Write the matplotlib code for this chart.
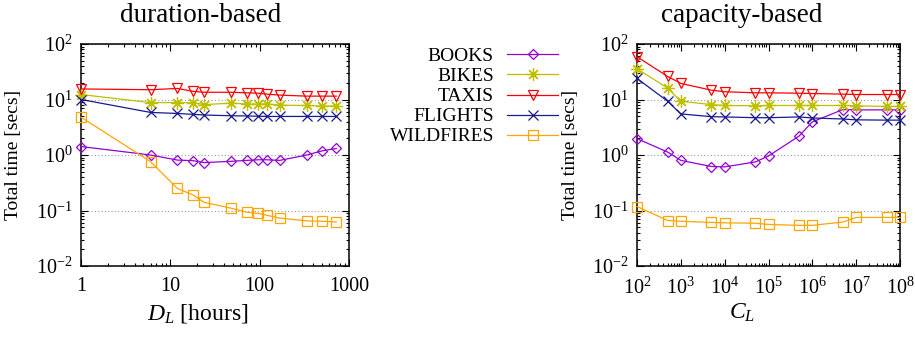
import matplotlib
matplotlib.use("Agg")
import matplotlib.pyplot as plt
from matplotlib.lines import Line2D
from matplotlib.ticker import LogLocator, FixedLocator, FixedFormatter, LogFormatterSciNotation, NullFormatter

plt.rcParams['font.family'] = ['Liberation Serif', 'DejaVu Serif']
plt.rcParams['mathtext.fontset'] = 'custom'
plt.rcParams['mathtext.rm'] = 'Liberation Serif'
plt.rcParams['mathtext.it'] = 'Liberation Serif:italic'
plt.rcParams['mathtext.bf'] = 'Liberation Serif:bold'

# ---------------- data ----------------
series_names = ["BOOKS", "BIKES", "TAXIS", "FLIGHTS", "WILDFIRES"]

duration_hours = [1, 6, 12, 18, 24, 48, 72, 96, 120, 168, 336, 504, 720]
dur_books = [1.42, 1.0, 0.81, 0.79, 0.73, 0.77, 0.80, 0.82, 0.82, 0.80, 1.0, 1.19, 1.31]
dur_bikes = [12.3, 8.8, 8.8, 8.7, 8.1, 8.6, 8.3, 8.3, 8.3, 7.9, 7.8, 7.6, 7.7]
dur_taxis = [15.5, 15.0, 15.8, 14.0, 13.5, 13.5, 13.2, 13.0, 12.5, 12.0, 11.5, 11.5, 11.5]
dur_flights = [10.0, 5.85, 5.6, 5.4, 5.25, 5.1, 5.05, 5.0, 4.95, 4.95, 4.95, 4.95, 4.95]
dur_wildfires = [4.8, 0.76, 0.25, 0.19, 0.14, 0.11, 0.093, 0.089, 0.082, 0.073, 0.065, 0.064, 0.062]

capacity = [1e2, 5e2, 1e3, 5e3, 1e4, 5e4, 1e5, 5e5, 1e6, 5e6, 1e7, 5e7, 1e8]
cap_books = [1.97, 1.13, 0.80, 0.62, 0.61, 0.75, 0.96, 2.2, 3.95, 6.6, 6.5, 6.5, 6.5]
cap_bikes = [36.0, 16.0, 9.3, 8.1, 7.8, 7.7, 7.8, 7.8, 7.8, 7.8, 7.7, 7.5, 7.5]
cap_taxis = [59.0, 26.0, 19.5, 14.7, 13.8, 13.2, 13.2, 13.0, 12.8, 12.5, 12.3, 12.3, 12.3]
cap_flights = [24.0, 9.3, 5.5, 4.9, 4.85, 4.7, 4.7, 4.85, 4.65, 4.45, 4.3, 4.25, 4.25]
cap_wildfires = [0.118, 0.066, 0.064, 0.061, 0.060, 0.059, 0.056, 0.054, 0.054, 0.062, 0.075, 0.075, 0.075]

dur_xticks = [1, 10, 100, 1000]
dur_xticklabels = ["1", "10", "100", "1000"]

# ---------------- styles ----------------
styles = {
    "BOOKS": dict(color="#9400d3", marker="D", ms=5.2),
    "BIKES": dict(color="#bfbf00", marker=(8, 2, 0), ms=9),
    "TAXIS": dict(color="#ff0000", marker="v", ms=7),
    "FLIGHTS": dict(color="#191990", marker="x", ms=6.5),
    "WILDFIRES": dict(color="#ffa500", marker="s", ms=6.5),
}

fig = plt.figure(figsize=(9.15, 3.39), dpi=100)
W, H = 915, 339
def axrect(l, r, t, b):
    return [l / W, 1 - b / H, (r - l) / W, (b - t) / H]

ax1 = fig.add_axes(axrect(81, 349, 44, 266))
ax2 = fig.add_axes(axrect(637, 900, 44, 266))

def draw(ax, x, ys):
    for name, y in zip(series_names, ys):
        st = styles[name]
        filled = st["marker"] in ("x", (8, 2, 0))
        ax.plot(x, y, color=st["color"], lw=0.9, marker=st["marker"], ms=st["ms"],
                mfc="none" if not filled else st["color"], mec=st["color"], mew=0.9,
                clip_on=False, zorder=3)

draw(ax1, duration_hours, [dur_books, dur_bikes, dur_taxis, dur_flights, dur_wildfires])
draw(ax2, capacity, [cap_books, cap_bikes, cap_taxis, cap_flights, cap_wildfires])

for ax in (ax1, ax2):
    ax.set_xscale("log")
    ax.set_yscale("log")
    ax.set_ylim(1e-2, 1e2)
    ax.yaxis.set_major_locator(FixedLocator([1e-2, 1e-1, 1e0, 1e1, 1e2]))
    ax.yaxis.set_major_formatter(LogFormatterSciNotation())
    ax.yaxis.set_minor_locator(LogLocator(base=10, subs=range(2, 10), numticks=20))
    ax.yaxis.set_minor_formatter(NullFormatter())
    ax.xaxis.set_minor_locator(LogLocator(base=10, subs=range(2, 10), numticks=20))
    ax.xaxis.set_minor_formatter(NullFormatter())
    ax.tick_params(which="both", direction="in", top=True, right=True, labelsize=14.5, width=0.8)
    ax.tick_params(which="major", length=5)
    ax.tick_params(which="minor", length=2.5)
    ax.tick_params(axis="x", which="major", pad=8)
    ax.tick_params(axis="y", which="major", pad=6)
    for sp in ax.spines.values():
        sp.set_linewidth(1.1)
    ax.grid(axis="y", which="major", color="#999999", linestyle=(0, (1, 2)), lw=0.8)
    ax.set_axisbelow(True)
    ax.set_ylabel("Total time [secs]", fontsize=14)
    ax.yaxis.set_label_coords(-0.22, 0.5)

ax1.set_xlim(1, 1000)
ax1.xaxis.set_major_locator(FixedLocator(dur_xticks))
ax1.xaxis.set_major_formatter(FixedFormatter(dur_xticklabels))
ax2.set_xlim(1e2, 1e8)
ax2.xaxis.set_major_locator(FixedLocator([1e2, 1e3, 1e4, 1e5, 1e6, 1e7, 1e8]))
ax2.xaxis.set_major_formatter(LogFormatterSciNotation())

ax1.set_title("duration-based", fontsize=19.5, pad=16, x=0.448)
ax2.set_title("capacity-based", fontsize=19.5, pad=16, x=0.398)
ax1.set_xlabel("$D_L$ [hours]", fontsize=17)
ax2.set_xlabel("$C_L$", fontsize=17)
ax1.xaxis.set_label_coords(0.437, -0.16)
ax2.xaxis.set_label_coords(0.401, -0.16)

# ---------------- legend (between the panels) ----------------
row_y = [54.3, 74.3, 94.5, 114.7, 134.7]
for name, yp in zip(series_names, row_y):
    st = styles[name]
    filled = st["marker"] in ("x", (8, 2, 0))
    fig.text(494 / W, 1 - (yp + 6.5) / H, name, ha="right", va="baseline", fontsize=14)
    fig.add_artist(Line2D([507 / W, 558 / W], [1 - yp / H, 1 - yp / H], color=st["color"], lw=0.9,
                          transform=fig.transFigure))
    fig.add_artist(Line2D([532.5 / W], [1 - yp / H], color=st["color"], marker=st["marker"], ms=st["ms"],
                          mfc="none" if not filled else st["color"], mec=st["color"], mew=0.9,
                          transform=fig.transFigure))

fig.savefig("out.png", dpi=100)
